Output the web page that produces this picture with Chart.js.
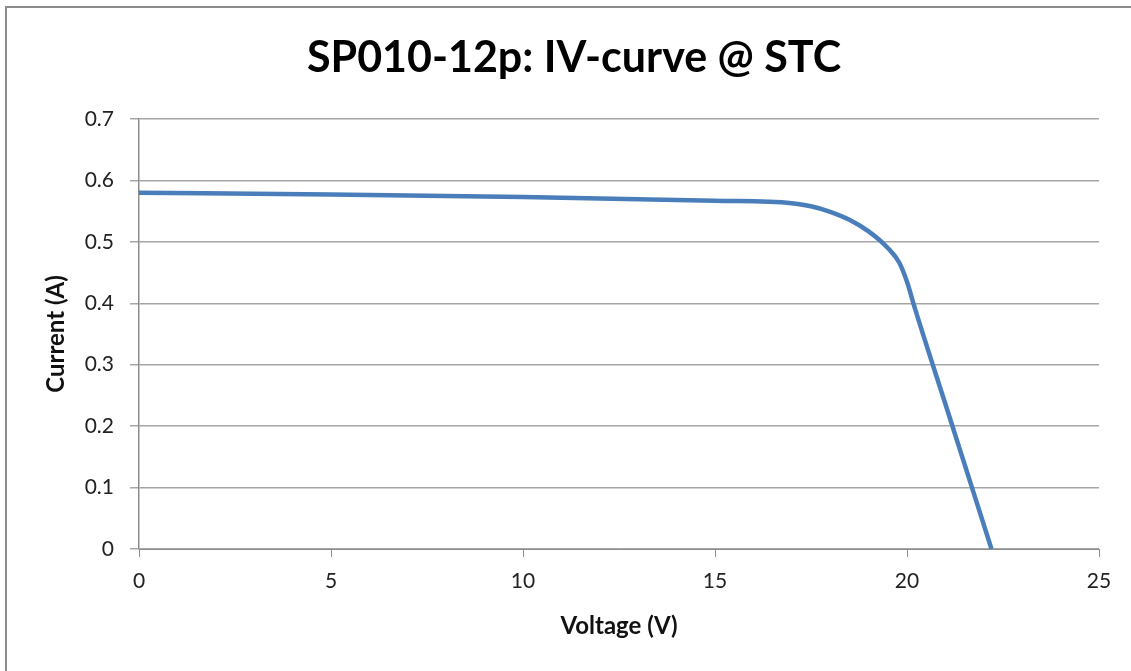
<!DOCTYPE html>
<html>
<head>
<meta charset="utf-8">
<script src="https://cdn.jsdelivr.net/npm/chart.js@4.4.0/dist/chart.umd.min.js"></script>
<style>
  html, body { margin: 0; padding: 0; background: #fff; overflow: hidden; }
  #frame { position: absolute; left: 5px; top: 6px; width: 1150px; height: 700px; border: 2px solid #8c8c8c; box-sizing: border-box; }
  #wrap { position: absolute; left: 0; top: 0; width: 1131px; height: 671px; }
</style>
</head>
<body>
<div id="frame"></div>
<div id="wrap"><canvas id="c" width="1131" height="671"></canvas></div>
<script>
const voltage = [0, 5, 10, 15, 17, 17.5, 18, 18.5, 19, 19.5, 19.8, 20, 20.2, 21, 22.2];
const current = [0.580, 0.577, 0.573, 0.567, 0.563, 0.558, 0.549, 0.536, 0.517, 0.490, 0.466, 0.435, 0.393, 0.236, 0];
const xTicks = [0, 5, 10, 15, 20, 25];
const yTicks = [0, 0.1, 0.2, 0.3, 0.4, 0.5, 0.6, 0.7];
const titleText = 'SP010-12p: IV-curve @ STC';
const xTitle = 'Voltage (V)';
const yTitle = 'Current (A)';

const FONT = 'Lato, "Open Sans", sans-serif';
const points = voltage.map((v, i) => ({ x: v, y: current[i] }));

new Chart(document.getElementById('c'), {
  type: 'scatter',
  data: {
    datasets: [{
      data: points,
      showLine: true,
      borderColor: '#4a7ebb',
      borderWidth: 4.5,
      pointRadius: 0,
      cubicInterpolationMode: 'monotone',
      fill: false
    }]
  },
  options: {
    responsive: false,
    animation: false,
    layout: { padding: { left: 49, right: 32, top: 0, bottom: 0 } },
    plugins: {
      legend: { display: false },
      tooltip: { enabled: false },
      title: {
        display: true,
        text: titleText,
        color: '#000',
        font: { family: FONT, size: 43, weight: 'bold', lineHeight: 1.0 },
        padding: { top: 37, bottom: 39 },
        align: 'center'
      }
    },
    scales: {
      x: {
        type: 'linear',
        min: 0, max: 25,
        afterBuildTicks: s => { s.ticks = xTicks.map(v => ({ value: v })); },
        afterFit: s => { s.height = 671 - 549; },
        ticks: { color: '#222', font: { family: FONT, size: 21 }, padding: 12, maxRotation: 0 },
        grid: { drawOnChartArea: false, drawTicks: true, tickLength: 8, color: '#8c8c8c', lineWidth: 1 },
        border: { display: true, color: '#8c8c8c', width: 1 },
        title: { display: true, text: xTitle, color: '#111', font: { family: FONT, size: 24, weight: 'bold', lineHeight: 1.2 }, padding: { top: 0, bottom: 30.6 } }
      },
      y: {
        type: 'linear',
        min: 0, max: 0.7,
        afterBuildTicks: s => { s.ticks = yTicks.map(v => ({ value: v })); },
        afterFit: s => { s.width = 139 - 49; },
        ticks: { color: '#222', font: { family: FONT, size: 21 }, padding: 16, callback: v => String(Math.round(v * 10) / 10) },
        grid: { drawOnChartArea: true, drawTicks: true, tickLength: 9, color: '#a6a6a6', lineWidth: 1.5 },
        border: { display: true, color: '#8c8c8c', width: 1.5 },
        title: { display: true, text: yTitle, color: '#111', font: { family: FONT, size: 24, weight: 'bold', lineHeight: 1.2 }, padding: { top: -7.4, bottom: 0 } }
      }
    }
  }
});
</script>
</body>
</html>
